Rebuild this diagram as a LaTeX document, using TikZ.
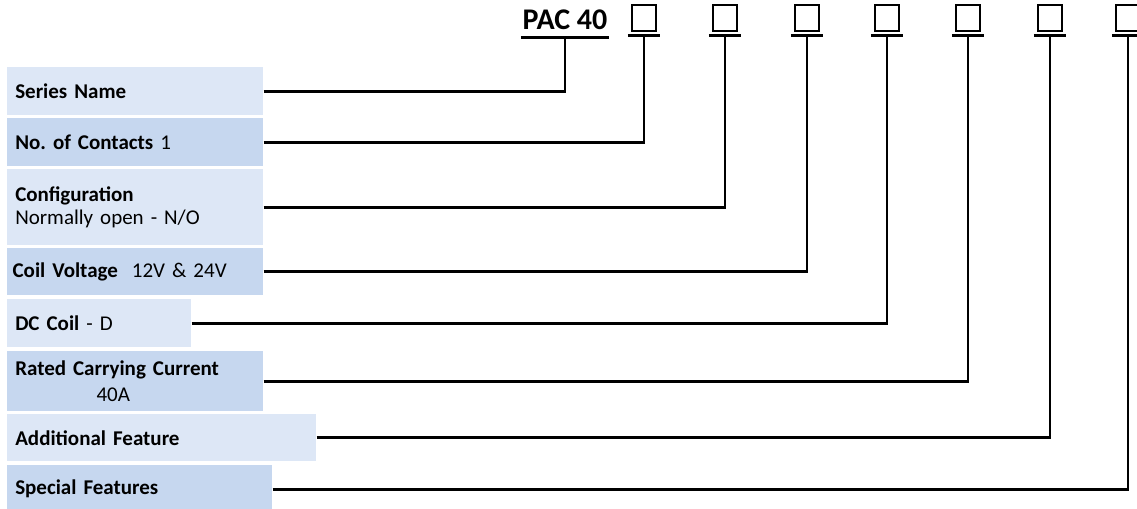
\documentclass[tikz,border=0pt]{standalone}
\usepackage{fontspec}
\setmainfont{Carlito}
\usetikzlibrary{positioning}
\definecolor{boxlight}{RGB}{221,231,246}
\definecolor{boxdark}{RGB}{198,215,239}
\tikzset{field/.style={anchor=north west,inner xsep=6pt,inner ysep=0pt,align=left,
		font=\fontsize{15.75}{17.25}\selectfont},
	light field/.style={field,fill=boxlight},
	dark field/.style={field,fill=boxdark},
}
\frenchspacing

\begin{document}
\begin{tikzpicture}[x=0.75pt,y=-0.75pt,lead/.style={line width=2.1pt},
		digit/.style={draw,line width=2.1pt,minimum width=18pt,minimum height=19.5pt,inner sep=0pt}]
		\useasboundingbox (0,0) rectangle (1137,509);
		
		% code head
		\node[font=\bfseries\fontsize{22.5}{22.5}\selectfont,anchor=base,inner xsep=0pt,inner ysep=5pt] (pac) at (565,30) {PAC 40};
		\draw[lead] ([xshift=-1pt]pac.south west) -- ([xshift=1pt]pac.south east);
		\foreach \i/\x in {1/644,2/725,3/807,4/887,5/968,6/1050,7/1128} {
			\node[digit] (d\i) at (\x,18) {};
			\draw[lead] ([xshift=-2pt,yshift=-2.5pt]d\i.south west) -- ([xshift=2pt,yshift=-2.5pt]d\i.south east);
			\coordinate (u\i) at ([yshift=-2.5pt]d\i.south);
		}
		
		% fields
		\node[light field,text width=180pt,minimum height=36pt] (series) at (7,67) {\textbf{Series Name}};
		\node[dark field,text width=180pt,minimum height=36pt] (contacts) at (7,118) {\textbf{No. of Contacts} 1};
		\node[light field,text width=180pt,minimum height=57pt] (config) at (7,169) {\textbf{Configuration}\\Normally open - N/O};
		\node[dark field,text width=184pt,minimum height=35.25pt,inner xsep=4pt] (voltage) at (7,248) {\textbf{Coil Voltage}\ \ 12V \& 24V};
		\node[light field,text width=126pt,minimum height=36pt] (coil) at (7,299) {\textbf{DC Coil} - D};
		\node[dark field,text width=180pt,minimum height=45pt] (current) at (7,351) {\textbf{Rated Carrying Current}\\[2.5pt]\hspace*{61pt}40A};
		\node[light field,text width=219.75pt,minimum height=35.25pt] (additional) at (7,414) {\textbf{Additional Feature}};
		\node[dark field,text width=186.75pt,minimum height=36pt] (special) at (7,465) {\textbf{Special Features}};
		
		% leads
		\draw[lead] (series.east) -| (pac.south);
		\draw[lead] (contacts.east) -| (u1);
		\draw[lead] (config.east) -| (u2);
		\draw[lead] (voltage.east) -| (u3);
		\draw[lead] (coil.east) -| (u4);
		\draw[lead] (current.east) -| (u5);
		\draw[lead] (additional.east) -| (u6);
		\draw[lead] (special.east) -| (u7);
\end{tikzpicture}
\end{document}
